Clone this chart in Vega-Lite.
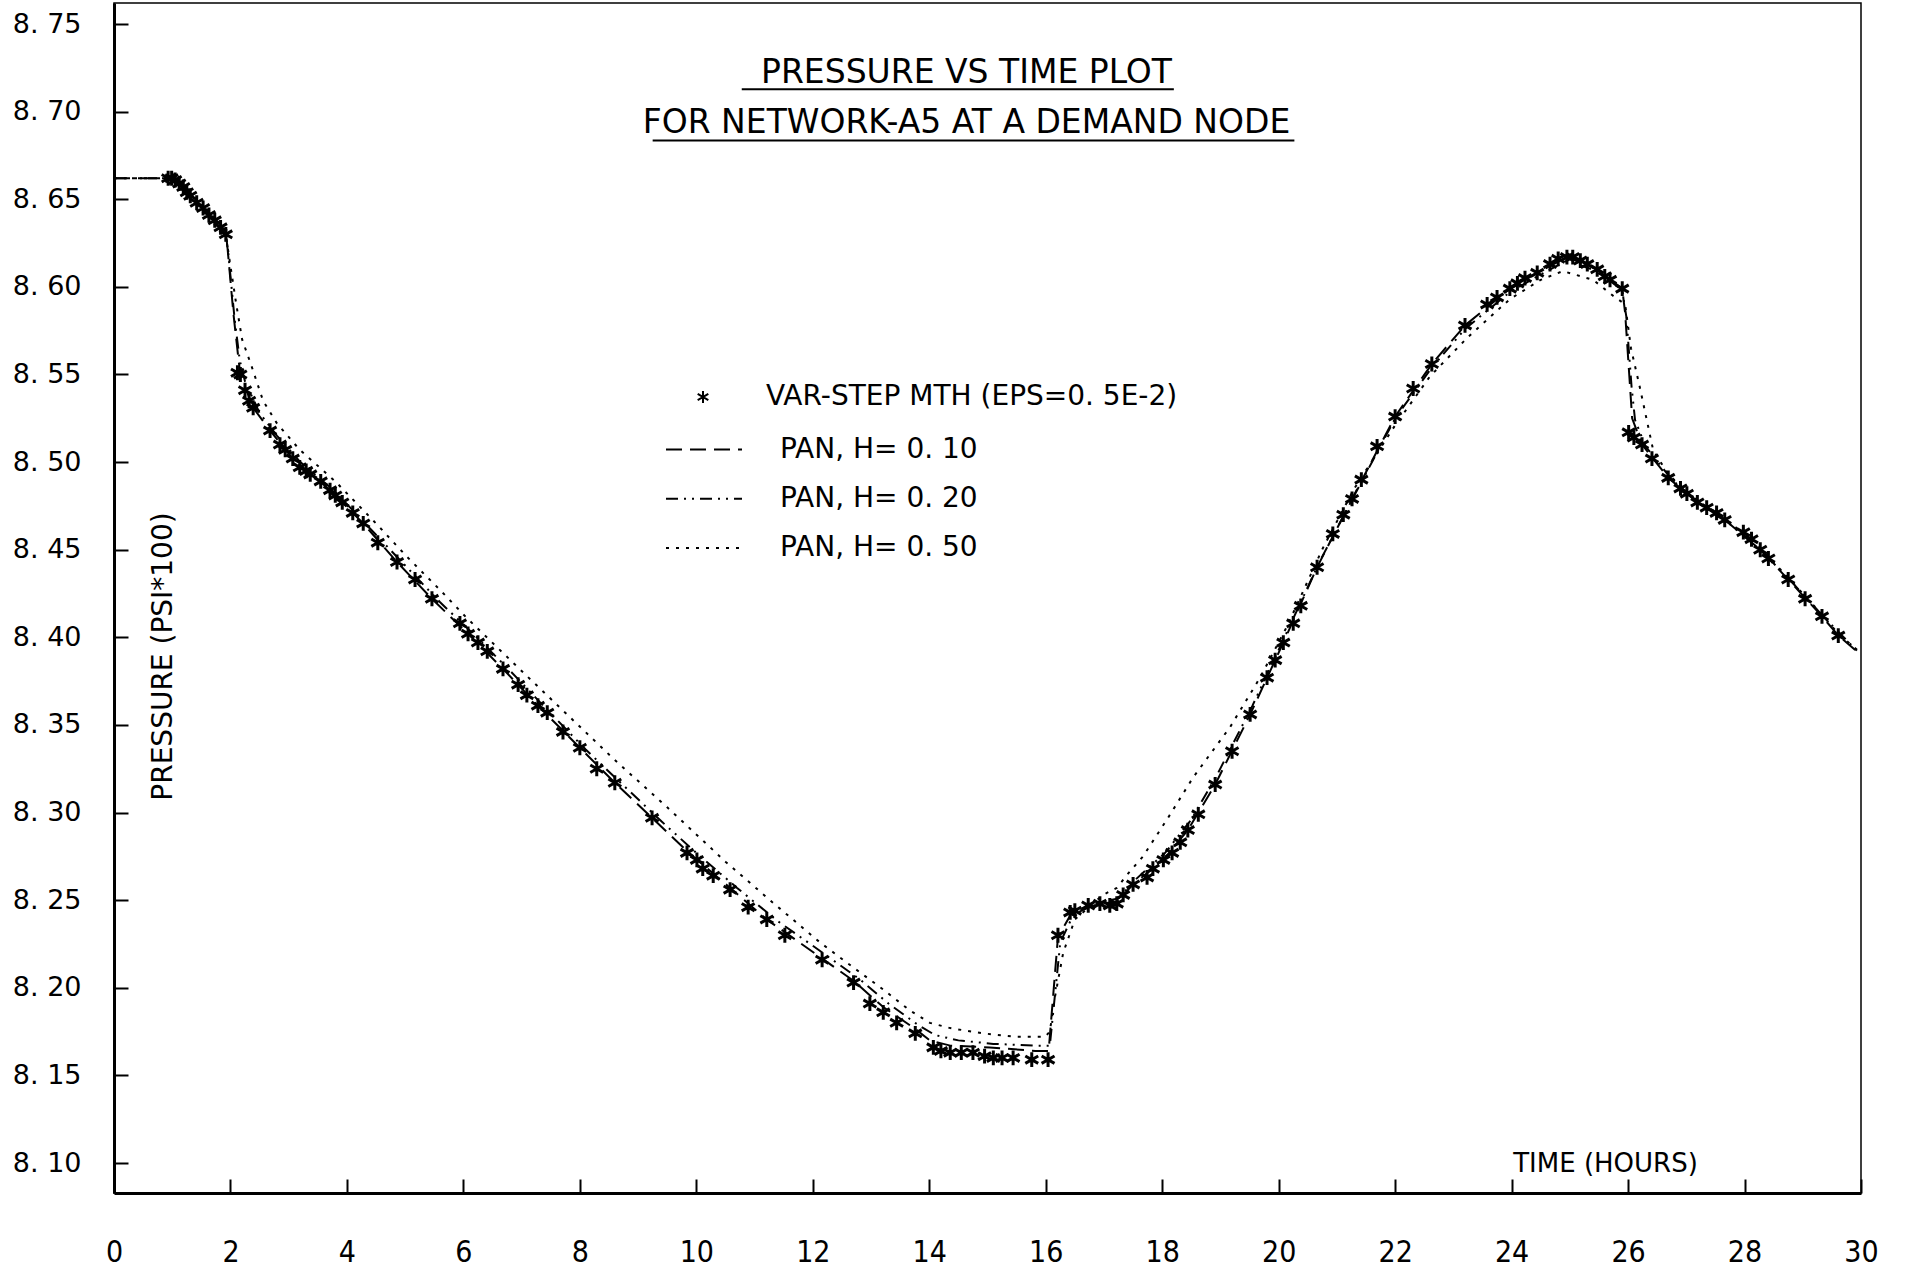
{
  "$schema": "https://vega.github.io/schema/vega-lite/v6.json",
  "width": 1747,
  "height": 1190,
  "autosize": {"type": "none"},
  "padding": {"left": 114, "top": 3, "right": 45, "bottom": 78},
  "background": "white",
  "config": {
    "view": {"stroke": "black", "strokeWidth": 1.5},
    "font": "DejaVu Sans",
    "axisX": {
      "grid": false,
      "tickSize": -14,
      "tickWidth": 2,
      "tickColor": "black",
      "domainColor": "black",
      "domainWidth": 3,
      "labelFont": "DejaVu Sans Condensed",
      "labelFontSize": 30,
      "labelColor": "black",
      "labelPadding": 58,
      "labelFlush": false,
      "labelOverlap": false,
      "titleFont": "DejaVu Sans",
      "titleFontSize": 26,
      "titleFontWeight": "normal",
      "titleColor": "black",
      "titleX": 1491,
      "titleY": -30,
      "titleAlign": "center",
      "titleBaseline": "middle"
    },
    "axisY": {
      "grid": false,
      "tickSize": -14,
      "tickWidth": 2,
      "tickColor": "black",
      "domainColor": "black",
      "domainWidth": 3,
      "labelFont": "DejaVu Sans",
      "labelFontSize": 27,
      "labelColor": "black",
      "labelPadding": 47,
      "labelFlush": false,
      "labelOverlap": false,
      "titleFont": "DejaVu Sans",
      "titleFontSize": 28,
      "titleFontWeight": "normal",
      "titleColor": "black",
      "titleX": 63,
      "titleY": 653,
      "titleAngle": 270,
      "titleAlign": "center",
      "titleBaseline": "bottom"
    }
  },
  "title": {
    "text": "PRESSURE VS TIME PLOT",
    "subtitle": "FOR NETWORK-A5 AT A DEMAND NODE",
    "anchor": "middle",
    "frame": "group",
    "offset": -137,
    "dx": -21,
    "font": "DejaVu Sans",
    "fontSize": 33,
    "fontWeight": "normal",
    "color": "black",
    "subtitleFont": "DejaVu Sans",
    "subtitleFontSize": 33,
    "subtitleColor": "black",
    "subtitlePadding": 17
  },
  "datasets": {
    "stars": [
      {"t": 0.93, "v": 8.662, "method": "VAR-STEP MTH  (EPS=0. 5E-2)"},
      {"t": 0.99, "v": 8.662, "method": "VAR-STEP MTH  (EPS=0. 5E-2)"},
      {"t": 1.05, "v": 8.661, "method": "VAR-STEP MTH  (EPS=0. 5E-2)"},
      {"t": 1.12, "v": 8.659, "method": "VAR-STEP MTH  (EPS=0. 5E-2)"},
      {"t": 1.19, "v": 8.657, "method": "VAR-STEP MTH  (EPS=0. 5E-2)"},
      {"t": 1.25, "v": 8.654, "method": "VAR-STEP MTH  (EPS=0. 5E-2)"},
      {"t": 1.31, "v": 8.652, "method": "VAR-STEP MTH  (EPS=0. 5E-2)"},
      {"t": 1.42, "v": 8.648, "method": "VAR-STEP MTH  (EPS=0. 5E-2)"},
      {"t": 1.53, "v": 8.645, "method": "VAR-STEP MTH  (EPS=0. 5E-2)"},
      {"t": 1.63, "v": 8.641, "method": "VAR-STEP MTH  (EPS=0. 5E-2)"},
      {"t": 1.73, "v": 8.638, "method": "VAR-STEP MTH  (EPS=0. 5E-2)"},
      {"t": 1.83, "v": 8.634, "method": "VAR-STEP MTH  (EPS=0. 5E-2)"},
      {"t": 1.92, "v": 8.630, "method": "VAR-STEP MTH  (EPS=0. 5E-2)"},
      {"t": 2.12, "v": 8.551, "method": "VAR-STEP MTH  (EPS=0. 5E-2)"},
      {"t": 2.17, "v": 8.550, "method": "VAR-STEP MTH  (EPS=0. 5E-2)"},
      {"t": 2.25, "v": 8.541, "method": "VAR-STEP MTH  (EPS=0. 5E-2)"},
      {"t": 2.32, "v": 8.535, "method": "VAR-STEP MTH  (EPS=0. 5E-2)"},
      {"t": 2.39, "v": 8.531, "method": "VAR-STEP MTH  (EPS=0. 5E-2)"},
      {"t": 2.68, "v": 8.518, "method": "VAR-STEP MTH  (EPS=0. 5E-2)"},
      {"t": 2.85, "v": 8.510, "method": "VAR-STEP MTH  (EPS=0. 5E-2)"},
      {"t": 2.94, "v": 8.507, "method": "VAR-STEP MTH  (EPS=0. 5E-2)"},
      {"t": 3.07, "v": 8.502, "method": "VAR-STEP MTH  (EPS=0. 5E-2)"},
      {"t": 3.19, "v": 8.497, "method": "VAR-STEP MTH  (EPS=0. 5E-2)"},
      {"t": 3.30, "v": 8.495, "method": "VAR-STEP MTH  (EPS=0. 5E-2)"},
      {"t": 3.37, "v": 8.493, "method": "VAR-STEP MTH  (EPS=0. 5E-2)"},
      {"t": 3.55, "v": 8.489, "method": "VAR-STEP MTH  (EPS=0. 5E-2)"},
      {"t": 3.71, "v": 8.484, "method": "VAR-STEP MTH  (EPS=0. 5E-2)"},
      {"t": 3.80, "v": 8.481, "method": "VAR-STEP MTH  (EPS=0. 5E-2)"},
      {"t": 3.92, "v": 8.477, "method": "VAR-STEP MTH  (EPS=0. 5E-2)"},
      {"t": 4.10, "v": 8.471, "method": "VAR-STEP MTH  (EPS=0. 5E-2)"},
      {"t": 4.28, "v": 8.465, "method": "VAR-STEP MTH  (EPS=0. 5E-2)"},
      {"t": 4.53, "v": 8.454, "method": "VAR-STEP MTH  (EPS=0. 5E-2)"},
      {"t": 4.86, "v": 8.443, "method": "VAR-STEP MTH  (EPS=0. 5E-2)"},
      {"t": 5.17, "v": 8.433, "method": "VAR-STEP MTH  (EPS=0. 5E-2)"},
      {"t": 5.46, "v": 8.422, "method": "VAR-STEP MTH  (EPS=0. 5E-2)"},
      {"t": 5.94, "v": 8.408, "method": "VAR-STEP MTH  (EPS=0. 5E-2)"},
      {"t": 6.08, "v": 8.402, "method": "VAR-STEP MTH  (EPS=0. 5E-2)"},
      {"t": 6.25, "v": 8.397, "method": "VAR-STEP MTH  (EPS=0. 5E-2)"},
      {"t": 6.41, "v": 8.392, "method": "VAR-STEP MTH  (EPS=0. 5E-2)"},
      {"t": 6.68, "v": 8.382, "method": "VAR-STEP MTH  (EPS=0. 5E-2)"},
      {"t": 6.94, "v": 8.373, "method": "VAR-STEP MTH  (EPS=0. 5E-2)"},
      {"t": 7.09, "v": 8.367, "method": "VAR-STEP MTH  (EPS=0. 5E-2)"},
      {"t": 7.28, "v": 8.361, "method": "VAR-STEP MTH  (EPS=0. 5E-2)"},
      {"t": 7.44, "v": 8.357, "method": "VAR-STEP MTH  (EPS=0. 5E-2)"},
      {"t": 7.71, "v": 8.346, "method": "VAR-STEP MTH  (EPS=0. 5E-2)"},
      {"t": 8.00, "v": 8.337, "method": "VAR-STEP MTH  (EPS=0. 5E-2)"},
      {"t": 8.29, "v": 8.325, "method": "VAR-STEP MTH  (EPS=0. 5E-2)"},
      {"t": 8.60, "v": 8.317, "method": "VAR-STEP MTH  (EPS=0. 5E-2)"},
      {"t": 9.24, "v": 8.297, "method": "VAR-STEP MTH  (EPS=0. 5E-2)"},
      {"t": 9.84, "v": 8.277, "method": "VAR-STEP MTH  (EPS=0. 5E-2)"},
      {"t": 10.01, "v": 8.273, "method": "VAR-STEP MTH  (EPS=0. 5E-2)"},
      {"t": 10.11, "v": 8.268, "method": "VAR-STEP MTH  (EPS=0. 5E-2)"},
      {"t": 10.29, "v": 8.264, "method": "VAR-STEP MTH  (EPS=0. 5E-2)"},
      {"t": 10.58, "v": 8.256, "method": "VAR-STEP MTH  (EPS=0. 5E-2)"},
      {"t": 10.89, "v": 8.246, "method": "VAR-STEP MTH  (EPS=0. 5E-2)"},
      {"t": 11.21, "v": 8.239, "method": "VAR-STEP MTH  (EPS=0. 5E-2)"},
      {"t": 11.52, "v": 8.230, "method": "VAR-STEP MTH  (EPS=0. 5E-2)"},
      {"t": 12.16, "v": 8.216, "method": "VAR-STEP MTH  (EPS=0. 5E-2)"},
      {"t": 12.70, "v": 8.203, "method": "VAR-STEP MTH  (EPS=0. 5E-2)"},
      {"t": 12.98, "v": 8.191, "method": "VAR-STEP MTH  (EPS=0. 5E-2)"},
      {"t": 13.21, "v": 8.186, "method": "VAR-STEP MTH  (EPS=0. 5E-2)"},
      {"t": 13.44, "v": 8.180, "method": "VAR-STEP MTH  (EPS=0. 5E-2)"},
      {"t": 13.76, "v": 8.174, "method": "VAR-STEP MTH  (EPS=0. 5E-2)"},
      {"t": 14.07, "v": 8.166, "method": "VAR-STEP MTH  (EPS=0. 5E-2)"},
      {"t": 14.20, "v": 8.164, "method": "VAR-STEP MTH  (EPS=0. 5E-2)"},
      {"t": 14.36, "v": 8.163, "method": "VAR-STEP MTH  (EPS=0. 5E-2)"},
      {"t": 14.55, "v": 8.163, "method": "VAR-STEP MTH  (EPS=0. 5E-2)"},
      {"t": 14.75, "v": 8.163, "method": "VAR-STEP MTH  (EPS=0. 5E-2)"},
      {"t": 14.95, "v": 8.161, "method": "VAR-STEP MTH  (EPS=0. 5E-2)"},
      {"t": 15.10, "v": 8.160, "method": "VAR-STEP MTH  (EPS=0. 5E-2)"},
      {"t": 15.25, "v": 8.160, "method": "VAR-STEP MTH  (EPS=0. 5E-2)"},
      {"t": 15.44, "v": 8.160, "method": "VAR-STEP MTH  (EPS=0. 5E-2)"},
      {"t": 15.76, "v": 8.159, "method": "VAR-STEP MTH  (EPS=0. 5E-2)"},
      {"t": 16.04, "v": 8.159, "method": "VAR-STEP MTH  (EPS=0. 5E-2)"},
      {"t": 16.21, "v": 8.230, "method": "VAR-STEP MTH  (EPS=0. 5E-2)"},
      {"t": 16.42, "v": 8.243, "method": "VAR-STEP MTH  (EPS=0. 5E-2)"},
      {"t": 16.50, "v": 8.244, "method": "VAR-STEP MTH  (EPS=0. 5E-2)"},
      {"t": 16.73, "v": 8.247, "method": "VAR-STEP MTH  (EPS=0. 5E-2)"},
      {"t": 16.93, "v": 8.248, "method": "VAR-STEP MTH  (EPS=0. 5E-2)"},
      {"t": 17.10, "v": 8.247, "method": "VAR-STEP MTH  (EPS=0. 5E-2)"},
      {"t": 17.22, "v": 8.248, "method": "VAR-STEP MTH  (EPS=0. 5E-2)"},
      {"t": 17.33, "v": 8.253, "method": "VAR-STEP MTH  (EPS=0. 5E-2)"},
      {"t": 17.50, "v": 8.259, "method": "VAR-STEP MTH  (EPS=0. 5E-2)"},
      {"t": 17.74, "v": 8.263, "method": "VAR-STEP MTH  (EPS=0. 5E-2)"},
      {"t": 17.84, "v": 8.268, "method": "VAR-STEP MTH  (EPS=0. 5E-2)"},
      {"t": 18.02, "v": 8.273, "method": "VAR-STEP MTH  (EPS=0. 5E-2)"},
      {"t": 18.17, "v": 8.277, "method": "VAR-STEP MTH  (EPS=0. 5E-2)"},
      {"t": 18.31, "v": 8.283, "method": "VAR-STEP MTH  (EPS=0. 5E-2)"},
      {"t": 18.44, "v": 8.290, "method": "VAR-STEP MTH  (EPS=0. 5E-2)"},
      {"t": 18.62, "v": 8.299, "method": "VAR-STEP MTH  (EPS=0. 5E-2)"},
      {"t": 18.91, "v": 8.316, "method": "VAR-STEP MTH  (EPS=0. 5E-2)"},
      {"t": 19.20, "v": 8.335, "method": "VAR-STEP MTH  (EPS=0. 5E-2)"},
      {"t": 19.51, "v": 8.356, "method": "VAR-STEP MTH  (EPS=0. 5E-2)"},
      {"t": 19.80, "v": 8.377, "method": "VAR-STEP MTH  (EPS=0. 5E-2)"},
      {"t": 19.94, "v": 8.387, "method": "VAR-STEP MTH  (EPS=0. 5E-2)"},
      {"t": 20.08, "v": 8.397, "method": "VAR-STEP MTH  (EPS=0. 5E-2)"},
      {"t": 20.25, "v": 8.408, "method": "VAR-STEP MTH  (EPS=0. 5E-2)"},
      {"t": 20.38, "v": 8.418, "method": "VAR-STEP MTH  (EPS=0. 5E-2)"},
      {"t": 20.66, "v": 8.440, "method": "VAR-STEP MTH  (EPS=0. 5E-2)"},
      {"t": 20.93, "v": 8.459, "method": "VAR-STEP MTH  (EPS=0. 5E-2)"},
      {"t": 21.11, "v": 8.470, "method": "VAR-STEP MTH  (EPS=0. 5E-2)"},
      {"t": 21.26, "v": 8.479, "method": "VAR-STEP MTH  (EPS=0. 5E-2)"},
      {"t": 21.42, "v": 8.490, "method": "VAR-STEP MTH  (EPS=0. 5E-2)"},
      {"t": 21.69, "v": 8.509, "method": "VAR-STEP MTH  (EPS=0. 5E-2)"},
      {"t": 22.00, "v": 8.526, "method": "VAR-STEP MTH  (EPS=0. 5E-2)"},
      {"t": 22.31, "v": 8.542, "method": "VAR-STEP MTH  (EPS=0. 5E-2)"},
      {"t": 22.63, "v": 8.556, "method": "VAR-STEP MTH  (EPS=0. 5E-2)"},
      {"t": 23.20, "v": 8.578, "method": "VAR-STEP MTH  (EPS=0. 5E-2)"},
      {"t": 23.58, "v": 8.590, "method": "VAR-STEP MTH  (EPS=0. 5E-2)"},
      {"t": 23.75, "v": 8.594, "method": "VAR-STEP MTH  (EPS=0. 5E-2)"},
      {"t": 23.97, "v": 8.599, "method": "VAR-STEP MTH  (EPS=0. 5E-2)"},
      {"t": 24.10, "v": 8.602, "method": "VAR-STEP MTH  (EPS=0. 5E-2)"},
      {"t": 24.23, "v": 8.605, "method": "VAR-STEP MTH  (EPS=0. 5E-2)"},
      {"t": 24.44, "v": 8.608, "method": "VAR-STEP MTH  (EPS=0. 5E-2)"},
      {"t": 24.66, "v": 8.613, "method": "VAR-STEP MTH  (EPS=0. 5E-2)"},
      {"t": 24.80, "v": 8.616, "method": "VAR-STEP MTH  (EPS=0. 5E-2)"},
      {"t": 24.95, "v": 8.617, "method": "VAR-STEP MTH  (EPS=0. 5E-2)"},
      {"t": 25.05, "v": 8.617, "method": "VAR-STEP MTH  (EPS=0. 5E-2)"},
      {"t": 25.18, "v": 8.615, "method": "VAR-STEP MTH  (EPS=0. 5E-2)"},
      {"t": 25.30, "v": 8.613, "method": "VAR-STEP MTH  (EPS=0. 5E-2)"},
      {"t": 25.47, "v": 8.610, "method": "VAR-STEP MTH  (EPS=0. 5E-2)"},
      {"t": 25.60, "v": 8.606, "method": "VAR-STEP MTH  (EPS=0. 5E-2)"},
      {"t": 25.69, "v": 8.604, "method": "VAR-STEP MTH  (EPS=0. 5E-2)"},
      {"t": 25.90, "v": 8.599, "method": "VAR-STEP MTH  (EPS=0. 5E-2)"},
      {"t": 26.01, "v": 8.517, "method": "VAR-STEP MTH  (EPS=0. 5E-2)"},
      {"t": 26.10, "v": 8.514, "method": "VAR-STEP MTH  (EPS=0. 5E-2)"},
      {"t": 26.24, "v": 8.510, "method": "VAR-STEP MTH  (EPS=0. 5E-2)"},
      {"t": 26.41, "v": 8.502, "method": "VAR-STEP MTH  (EPS=0. 5E-2)"},
      {"t": 26.69, "v": 8.491, "method": "VAR-STEP MTH  (EPS=0. 5E-2)"},
      {"t": 26.90, "v": 8.485, "method": "VAR-STEP MTH  (EPS=0. 5E-2)"},
      {"t": 27.01, "v": 8.482, "method": "VAR-STEP MTH  (EPS=0. 5E-2)"},
      {"t": 27.19, "v": 8.477, "method": "VAR-STEP MTH  (EPS=0. 5E-2)"},
      {"t": 27.35, "v": 8.474, "method": "VAR-STEP MTH  (EPS=0. 5E-2)"},
      {"t": 27.52, "v": 8.471, "method": "VAR-STEP MTH  (EPS=0. 5E-2)"},
      {"t": 27.66, "v": 8.467, "method": "VAR-STEP MTH  (EPS=0. 5E-2)"},
      {"t": 27.98, "v": 8.460, "method": "VAR-STEP MTH  (EPS=0. 5E-2)"},
      {"t": 28.12, "v": 8.456, "method": "VAR-STEP MTH  (EPS=0. 5E-2)"},
      {"t": 28.27, "v": 8.450, "method": "VAR-STEP MTH  (EPS=0. 5E-2)"},
      {"t": 28.41, "v": 8.445, "method": "VAR-STEP MTH  (EPS=0. 5E-2)"},
      {"t": 28.75, "v": 8.433, "method": "VAR-STEP MTH  (EPS=0. 5E-2)"},
      {"t": 29.04, "v": 8.422, "method": "VAR-STEP MTH  (EPS=0. 5E-2)"},
      {"t": 29.33, "v": 8.412, "method": "VAR-STEP MTH  (EPS=0. 5E-2)"},
      {"t": 29.61, "v": 8.401, "method": "VAR-STEP MTH  (EPS=0. 5E-2)"}
    ],
    "pan": [
      {"t": 0.00, "v": 8.662, "series": "PAN,  H= 0. 10"},
      {"t": 0.90, "v": 8.662, "series": "PAN,  H= 0. 10"},
      {"t": 1.19, "v": 8.657, "series": "PAN,  H= 0. 10"},
      {"t": 1.53, "v": 8.645, "series": "PAN,  H= 0. 10"},
      {"t": 1.92, "v": 8.630, "series": "PAN,  H= 0. 10"},
      {"t": 1.95, "v": 8.622, "series": "PAN,  H= 0. 10"},
      {"t": 2.05, "v": 8.585, "series": "PAN,  H= 0. 10"},
      {"t": 2.13, "v": 8.561, "series": "PAN,  H= 0. 10"},
      {"t": 2.17, "v": 8.550, "series": "PAN,  H= 0. 10"},
      {"t": 2.39, "v": 8.531, "series": "PAN,  H= 0. 10"},
      {"t": 2.68, "v": 8.518, "series": "PAN,  H= 0. 10"},
      {"t": 3.07, "v": 8.502, "series": "PAN,  H= 0. 10"},
      {"t": 3.71, "v": 8.484, "series": "PAN,  H= 0. 10"},
      {"t": 4.28, "v": 8.465, "series": "PAN,  H= 0. 10"},
      {"t": 4.86, "v": 8.443, "series": "PAN,  H= 0. 10"},
      {"t": 5.46, "v": 8.422, "series": "PAN,  H= 0. 10"},
      {"t": 6.08, "v": 8.402, "series": "PAN,  H= 0. 10"},
      {"t": 6.68, "v": 8.382, "series": "PAN,  H= 0. 10"},
      {"t": 7.28, "v": 8.361, "series": "PAN,  H= 0. 10"},
      {"t": 8.00, "v": 8.337, "series": "PAN,  H= 0. 10"},
      {"t": 8.60, "v": 8.317, "series": "PAN,  H= 0. 10"},
      {"t": 9.24, "v": 8.297, "series": "PAN,  H= 0. 10"},
      {"t": 9.84, "v": 8.278, "series": "PAN,  H= 0. 10"},
      {"t": 10.58, "v": 8.257, "series": "PAN,  H= 0. 10"},
      {"t": 11.21, "v": 8.239, "series": "PAN,  H= 0. 10"},
      {"t": 11.85, "v": 8.224, "series": "PAN,  H= 0. 10"},
      {"t": 12.70, "v": 8.204, "series": "PAN,  H= 0. 10"},
      {"t": 13.21, "v": 8.189, "series": "PAN,  H= 0. 10"},
      {"t": 13.74, "v": 8.177, "series": "PAN,  H= 0. 10"},
      {"t": 14.01, "v": 8.170, "series": "PAN,  H= 0. 10"},
      {"t": 14.36, "v": 8.167, "series": "PAN,  H= 0. 10"},
      {"t": 15.04, "v": 8.166, "series": "PAN,  H= 0. 10"},
      {"t": 15.82, "v": 8.164, "series": "PAN,  H= 0. 10"},
      {"t": 16.05, "v": 8.164, "series": "PAN,  H= 0. 10"},
      {"t": 16.21, "v": 8.229, "series": "PAN,  H= 0. 10"},
      {"t": 16.45, "v": 8.243, "series": "PAN,  H= 0. 10"},
      {"t": 16.93, "v": 8.248, "series": "PAN,  H= 0. 10"},
      {"t": 17.22, "v": 8.249, "series": "PAN,  H= 0. 10"},
      {"t": 17.50, "v": 8.259, "series": "PAN,  H= 0. 10"},
      {"t": 18.02, "v": 8.273, "series": "PAN,  H= 0. 10"},
      {"t": 18.44, "v": 8.290, "series": "PAN,  H= 0. 10"},
      {"t": 18.91, "v": 8.316, "series": "PAN,  H= 0. 10"},
      {"t": 19.51, "v": 8.356, "series": "PAN,  H= 0. 10"},
      {"t": 20.08, "v": 8.397, "series": "PAN,  H= 0. 10"},
      {"t": 20.66, "v": 8.440, "series": "PAN,  H= 0. 10"},
      {"t": 21.26, "v": 8.479, "series": "PAN,  H= 0. 10"},
      {"t": 22.00, "v": 8.526, "series": "PAN,  H= 0. 10"},
      {"t": 22.63, "v": 8.556, "series": "PAN,  H= 0. 10"},
      {"t": 23.20, "v": 8.578, "series": "PAN,  H= 0. 10"},
      {"t": 23.97, "v": 8.599, "series": "PAN,  H= 0. 10"},
      {"t": 24.44, "v": 8.608, "series": "PAN,  H= 0. 10"},
      {"t": 24.95, "v": 8.617, "series": "PAN,  H= 0. 10"},
      {"t": 25.47, "v": 8.610, "series": "PAN,  H= 0. 10"},
      {"t": 25.90, "v": 8.599, "series": "PAN,  H= 0. 10"},
      {"t": 25.95, "v": 8.585, "series": "PAN,  H= 0. 10"},
      {"t": 26.03, "v": 8.545, "series": "PAN,  H= 0. 10"},
      {"t": 26.07, "v": 8.525, "series": "PAN,  H= 0. 10"},
      {"t": 26.24, "v": 8.510, "series": "PAN,  H= 0. 10"},
      {"t": 26.69, "v": 8.491, "series": "PAN,  H= 0. 10"},
      {"t": 27.19, "v": 8.477, "series": "PAN,  H= 0. 10"},
      {"t": 27.66, "v": 8.467, "series": "PAN,  H= 0. 10"},
      {"t": 28.27, "v": 8.450, "series": "PAN,  H= 0. 10"},
      {"t": 28.75, "v": 8.433, "series": "PAN,  H= 0. 10"},
      {"t": 29.33, "v": 8.412, "series": "PAN,  H= 0. 10"},
      {"t": 29.61, "v": 8.401, "series": "PAN,  H= 0. 10"},
      {"t": 30.00, "v": 8.390, "series": "PAN,  H= 0. 10"},

      {"t": 0.00, "v": 8.662, "series": "PAN,  H= 0. 20"},
      {"t": 0.90, "v": 8.662, "series": "PAN,  H= 0. 20"},
      {"t": 1.19, "v": 8.657, "series": "PAN,  H= 0. 20"},
      {"t": 1.53, "v": 8.645, "series": "PAN,  H= 0. 20"},
      {"t": 1.92, "v": 8.630, "series": "PAN,  H= 0. 20"},
      {"t": 1.96, "v": 8.620, "series": "PAN,  H= 0. 20"},
      {"t": 2.07, "v": 8.582, "series": "PAN,  H= 0. 20"},
      {"t": 2.16, "v": 8.558, "series": "PAN,  H= 0. 20"},
      {"t": 2.25, "v": 8.546, "series": "PAN,  H= 0. 20"},
      {"t": 2.50, "v": 8.528, "series": "PAN,  H= 0. 20"},
      {"t": 2.80, "v": 8.515, "series": "PAN,  H= 0. 20"},
      {"t": 3.20, "v": 8.500, "series": "PAN,  H= 0. 20"},
      {"t": 3.80, "v": 8.483, "series": "PAN,  H= 0. 20"},
      {"t": 4.40, "v": 8.462, "series": "PAN,  H= 0. 20"},
      {"t": 5.00, "v": 8.441, "series": "PAN,  H= 0. 20"},
      {"t": 5.60, "v": 8.420, "series": "PAN,  H= 0. 20"},
      {"t": 6.20, "v": 8.401, "series": "PAN,  H= 0. 20"},
      {"t": 6.80, "v": 8.381, "series": "PAN,  H= 0. 20"},
      {"t": 7.40, "v": 8.360, "series": "PAN,  H= 0. 20"},
      {"t": 8.10, "v": 8.336, "series": "PAN,  H= 0. 20"},
      {"t": 8.70, "v": 8.317, "series": "PAN,  H= 0. 20"},
      {"t": 9.40, "v": 8.295, "series": "PAN,  H= 0. 20"},
      {"t": 10.00, "v": 8.277, "series": "PAN,  H= 0. 20"},
      {"t": 10.70, "v": 8.257, "series": "PAN,  H= 0. 20"},
      {"t": 11.40, "v": 8.238, "series": "PAN,  H= 0. 20"},
      {"t": 12.00, "v": 8.224, "series": "PAN,  H= 0. 20"},
      {"t": 12.80, "v": 8.205, "series": "PAN,  H= 0. 20"},
      {"t": 13.30, "v": 8.191, "series": "PAN,  H= 0. 20"},
      {"t": 13.80, "v": 8.179, "series": "PAN,  H= 0. 20"},
      {"t": 14.10, "v": 8.173, "series": "PAN,  H= 0. 20"},
      {"t": 14.50, "v": 8.170, "series": "PAN,  H= 0. 20"},
      {"t": 15.10, "v": 8.168, "series": "PAN,  H= 0. 20"},
      {"t": 15.85, "v": 8.167, "series": "PAN,  H= 0. 20"},
      {"t": 16.07, "v": 8.167, "series": "PAN,  H= 0. 20"},
      {"t": 16.25, "v": 8.226, "series": "PAN,  H= 0. 20"},
      {"t": 16.48, "v": 8.242, "series": "PAN,  H= 0. 20"},
      {"t": 16.95, "v": 8.249, "series": "PAN,  H= 0. 20"},
      {"t": 17.25, "v": 8.251, "series": "PAN,  H= 0. 20"},
      {"t": 17.55, "v": 8.262, "series": "PAN,  H= 0. 20"},
      {"t": 18.05, "v": 8.277, "series": "PAN,  H= 0. 20"},
      {"t": 18.50, "v": 8.296, "series": "PAN,  H= 0. 20"},
      {"t": 18.95, "v": 8.322, "series": "PAN,  H= 0. 20"},
      {"t": 19.55, "v": 8.361, "series": "PAN,  H= 0. 20"},
      {"t": 20.10, "v": 8.400, "series": "PAN,  H= 0. 20"},
      {"t": 20.70, "v": 8.443, "series": "PAN,  H= 0. 20"},
      {"t": 21.30, "v": 8.481, "series": "PAN,  H= 0. 20"},
      {"t": 22.00, "v": 8.525, "series": "PAN,  H= 0. 20"},
      {"t": 22.63, "v": 8.554, "series": "PAN,  H= 0. 20"},
      {"t": 23.20, "v": 8.576, "series": "PAN,  H= 0. 20"},
      {"t": 23.97, "v": 8.597, "series": "PAN,  H= 0. 20"},
      {"t": 24.44, "v": 8.606, "series": "PAN,  H= 0. 20"},
      {"t": 24.95, "v": 8.615, "series": "PAN,  H= 0. 20"},
      {"t": 25.47, "v": 8.609, "series": "PAN,  H= 0. 20"},
      {"t": 25.90, "v": 8.598, "series": "PAN,  H= 0. 20"},
      {"t": 25.97, "v": 8.583, "series": "PAN,  H= 0. 20"},
      {"t": 26.06, "v": 8.543, "series": "PAN,  H= 0. 20"},
      {"t": 26.12, "v": 8.524, "series": "PAN,  H= 0. 20"},
      {"t": 26.30, "v": 8.509, "series": "PAN,  H= 0. 20"},
      {"t": 26.75, "v": 8.490, "series": "PAN,  H= 0. 20"},
      {"t": 27.25, "v": 8.476, "series": "PAN,  H= 0. 20"},
      {"t": 27.70, "v": 8.466, "series": "PAN,  H= 0. 20"},
      {"t": 28.30, "v": 8.449, "series": "PAN,  H= 0. 20"},
      {"t": 28.80, "v": 8.432, "series": "PAN,  H= 0. 20"},
      {"t": 29.35, "v": 8.412, "series": "PAN,  H= 0. 20"},
      {"t": 30.00, "v": 8.390, "series": "PAN,  H= 0. 20"},

      {"t": 0.00, "v": 8.662, "series": "PAN,  H= 0. 50"},
      {"t": 0.90, "v": 8.662, "series": "PAN,  H= 0. 50"},
      {"t": 1.19, "v": 8.657, "series": "PAN,  H= 0. 50"},
      {"t": 1.53, "v": 8.645, "series": "PAN,  H= 0. 50"},
      {"t": 1.92, "v": 8.630, "series": "PAN,  H= 0. 50"},
      {"t": 1.99, "v": 8.614, "series": "PAN,  H= 0. 50"},
      {"t": 2.10, "v": 8.590, "series": "PAN,  H= 0. 50"},
      {"t": 2.20, "v": 8.570, "series": "PAN,  H= 0. 50"},
      {"t": 2.37, "v": 8.554, "series": "PAN,  H= 0. 50"},
      {"t": 2.56, "v": 8.535, "series": "PAN,  H= 0. 50"},
      {"t": 2.80, "v": 8.522, "series": "PAN,  H= 0. 50"},
      {"t": 3.19, "v": 8.507, "series": "PAN,  H= 0. 50"},
      {"t": 3.80, "v": 8.489, "series": "PAN,  H= 0. 50"},
      {"t": 4.50, "v": 8.465, "series": "PAN,  H= 0. 50"},
      {"t": 5.03, "v": 8.446, "series": "PAN,  H= 0. 50"},
      {"t": 5.60, "v": 8.427, "series": "PAN,  H= 0. 50"},
      {"t": 6.06, "v": 8.411, "series": "PAN,  H= 0. 50"},
      {"t": 6.90, "v": 8.384, "series": "PAN,  H= 0. 50"},
      {"t": 7.78, "v": 8.356, "series": "PAN,  H= 0. 50"},
      {"t": 8.60, "v": 8.330, "series": "PAN,  H= 0. 50"},
      {"t": 9.50, "v": 8.303, "series": "PAN,  H= 0. 50"},
      {"t": 10.50, "v": 8.272, "series": "PAN,  H= 0. 50"},
      {"t": 11.30, "v": 8.249, "series": "PAN,  H= 0. 50"},
      {"t": 12.12, "v": 8.226, "series": "PAN,  H= 0. 50"},
      {"t": 12.64, "v": 8.213, "series": "PAN,  H= 0. 50"},
      {"t": 13.21, "v": 8.199, "series": "PAN,  H= 0. 50"},
      {"t": 13.67, "v": 8.187, "series": "PAN,  H= 0. 50"},
      {"t": 14.01, "v": 8.180, "series": "PAN,  H= 0. 50"},
      {"t": 14.36, "v": 8.177, "series": "PAN,  H= 0. 50"},
      {"t": 14.92, "v": 8.174, "series": "PAN,  H= 0. 50"},
      {"t": 15.51, "v": 8.172, "series": "PAN,  H= 0. 50"},
      {"t": 15.99, "v": 8.172, "series": "PAN,  H= 0. 50"},
      {"t": 16.07, "v": 8.175, "series": "PAN,  H= 0. 50"},
      {"t": 16.16, "v": 8.195, "series": "PAN,  H= 0. 50"},
      {"t": 16.30, "v": 8.220, "series": "PAN,  H= 0. 50"},
      {"t": 16.50, "v": 8.239, "series": "PAN,  H= 0. 50"},
      {"t": 16.98, "v": 8.253, "series": "PAN,  H= 0. 50"},
      {"t": 17.22, "v": 8.257, "series": "PAN,  H= 0. 50"},
      {"t": 17.41, "v": 8.265, "series": "PAN,  H= 0. 50"},
      {"t": 17.67, "v": 8.275, "series": "PAN,  H= 0. 50"},
      {"t": 18.10, "v": 8.297, "series": "PAN,  H= 0. 50"},
      {"t": 18.53, "v": 8.320, "series": "PAN,  H= 0. 50"},
      {"t": 19.17, "v": 8.349, "series": "PAN,  H= 0. 50"},
      {"t": 19.68, "v": 8.377, "series": "PAN,  H= 0. 50"},
      {"t": 20.14, "v": 8.406, "series": "PAN,  H= 0. 50"},
      {"t": 20.76, "v": 8.451, "series": "PAN,  H= 0. 50"},
      {"t": 21.30, "v": 8.485, "series": "PAN,  H= 0. 50"},
      {"t": 22.00, "v": 8.521, "series": "PAN,  H= 0. 50"},
      {"t": 22.60, "v": 8.549, "series": "PAN,  H= 0. 50"},
      {"t": 23.24, "v": 8.571, "series": "PAN,  H= 0. 50"},
      {"t": 23.97, "v": 8.593, "series": "PAN,  H= 0. 50"},
      {"t": 24.50, "v": 8.604, "series": "PAN,  H= 0. 50"},
      {"t": 24.88, "v": 8.609, "series": "PAN,  H= 0. 50"},
      {"t": 25.40, "v": 8.604, "series": "PAN,  H= 0. 50"},
      {"t": 25.74, "v": 8.595, "series": "PAN,  H= 0. 50"},
      {"t": 25.95, "v": 8.590, "series": "PAN,  H= 0. 50"},
      {"t": 26.05, "v": 8.565, "series": "PAN,  H= 0. 50"},
      {"t": 26.20, "v": 8.543, "series": "PAN,  H= 0. 50"},
      {"t": 26.43, "v": 8.507, "series": "PAN,  H= 0. 50"},
      {"t": 26.69, "v": 8.493, "series": "PAN,  H= 0. 50"},
      {"t": 27.19, "v": 8.478, "series": "PAN,  H= 0. 50"},
      {"t": 27.66, "v": 8.468, "series": "PAN,  H= 0. 50"},
      {"t": 28.27, "v": 8.451, "series": "PAN,  H= 0. 50"},
      {"t": 28.75, "v": 8.434, "series": "PAN,  H= 0. 50"},
      {"t": 29.33, "v": 8.413, "series": "PAN,  H= 0. 50"},
      {"t": 29.61, "v": 8.402, "series": "PAN,  H= 0. 50"},
      {"t": 30.00, "v": 8.391, "series": "PAN,  H= 0. 50"}
    ]
  },
  "layer": [
    {
      "data": {"name": "pan"},
      "mark": {"type": "line", "color": "black", "strokeWidth": 2, "strokeCap": "butt"},
      "encoding": {
        "x": {
          "field": "t",
          "type": "quantitative",
          "scale": {"domain": [0, 30], "nice": false, "zero": false},
          "axis": {
            "title": "TIME (HOURS)",
            "values": [0, 2, 4, 6, 8, 10, 12, 14, 16, 18, 20, 22, 24, 26, 28, 30],
            "format": "d"
          }
        },
        "y": {
          "field": "v",
          "type": "quantitative",
          "scale": {"domain": [8.0829, 8.762], "nice": false, "zero": false},
          "axis": {
            "title": "PRESSURE (PSI*100)",
            "values": [8.1, 8.15, 8.2, 8.25, 8.3, 8.35, 8.4, 8.45, 8.5, 8.55, 8.6, 8.65, 8.7, 8.75],
            "labelExpr": "replace(format(datum.value, '.2f'), '.', '. ')"
          }
        },
        "strokeDash": {
          "field": "series",
          "type": "nominal",
          "scale": {
            "domain": ["PAN,  H= 0. 10", "PAN,  H= 0. 20", "PAN,  H= 0. 50"],
            "range": [[16, 8], [12, 6, 2, 6, 2, 6], [3, 7]]
          },
          "legend": {
            "orient": "none",
            "legendX": 570,
            "legendY": 426.5,
            "title": null,
            "padding": 0,
            "symbolType": "M-2,0H2",
            "symbolSize": 1444,
            "symbolStrokeWidth": 2,
            "symbolStrokeColor": "black",
            "symbolFillColor": "transparent",
            "labelFont": "DejaVu Sans",
            "labelFontSize": 28,
            "labelColor": "black",
            "labelOffset": 56,
            "labelLimit": 0,
            "rowPadding": 15.2
          }
        }
      }
    },
    {
      "data": {"name": "stars"},
      "mark": {"type": "point", "filled": false, "color": "black", "strokeWidth": 3, "size": 220, "opacity": 1},
      "encoding": {
        "x": {
          "field": "t",
          "type": "quantitative",
          "axis": {
            "title": "TIME (HOURS)",
            "values": [0, 2, 4, 6, 8, 10, 12, 14, 16, 18, 20, 22, 24, 26, 28, 30],
            "format": "d"
          }
        },
        "y": {
          "field": "v",
          "type": "quantitative",
          "axis": {
            "title": "PRESSURE (PSI*100)",
            "values": [8.1, 8.15, 8.2, 8.25, 8.3, 8.35, 8.4, 8.45, 8.5, 8.55, 8.6, 8.65, 8.7, 8.75],
            "labelExpr": "replace(format(datum.value, '.2f'), '.', '. ')"
          }
        },
        "shape": {
          "field": "method",
          "type": "nominal",
          "scale": {
            "domain": ["VAR-STEP MTH  (EPS=0. 5E-2)"],
            "range": ["M0,-1L0,1M-0.87,-0.5L0.87,0.5M-0.87,0.5L0.87,-0.5"]
          },
          "legend": {
            "orient": "none",
            "legendX": 575,
            "legendY": 380,
            "title": null,
            "padding": 0,
            "symbolSize": 150,
            "symbolStrokeWidth": 2,
            "symbolStrokeColor": "black",
            "symbolFillColor": "transparent",
            "labelFont": "DejaVu Sans",
            "labelFontSize": 28,
            "labelColor": "black",
            "labelOffset": 49,
            "labelLimit": 0
          }
        }
      }
    },
    {
      "data": {"values": [{"underline": "title"}]},
      "mark": {"type": "rule", "color": "black", "strokeWidth": 2},
      "encoding": {
        "x": {"datum": 10.78, "type": "quantitative"},
        "x2": {"datum": 18.2},
        "y": {"datum": 8.7128, "type": "quantitative"}
      }
    },
    {
      "data": {"values": [{"underline": "subtitle"}]},
      "mark": {"type": "rule", "color": "black", "strokeWidth": 2},
      "encoding": {
        "x": {"datum": 9.25, "type": "quantitative"},
        "x2": {"datum": 20.27},
        "y": {"datum": 8.6836, "type": "quantitative"}
      }
    }
  ]
}
